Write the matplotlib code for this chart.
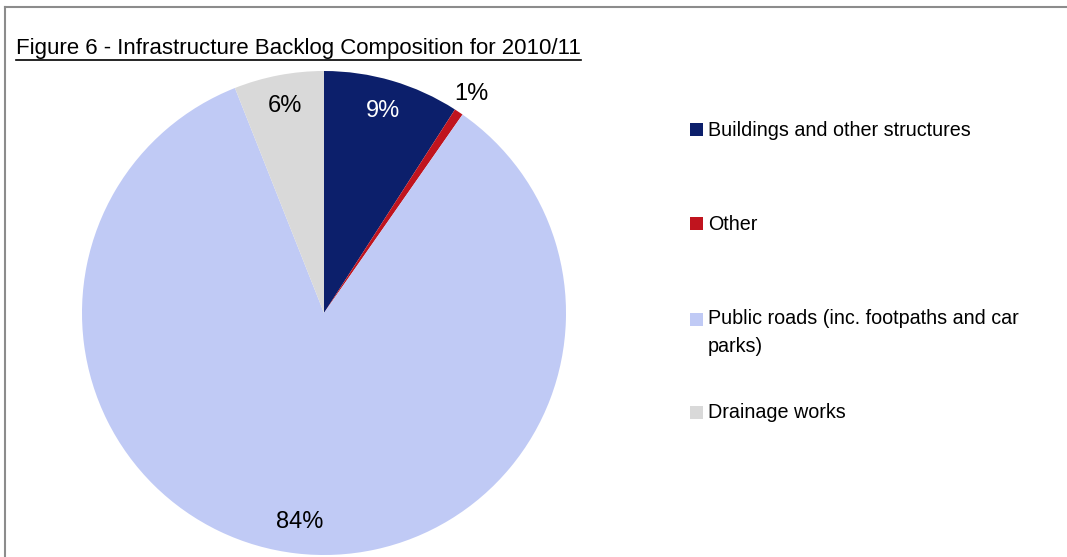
import matplotlib
matplotlib.use("Agg")
import matplotlib.pyplot as plt
from matplotlib.patches import Rectangle
from matplotlib.lines import Line2D
import numpy as np

# Backlog composition (share of total, %)
categories = ["Buildings and other structures", "Other",
              "Public roads (inc. footpaths and car\nparks)", "Drainage works"]
shares = [9.1, 0.6, 84.3, 6.0]
colors = ["#0C1F6B", "#C0141E", "#C0CAF5", "#D9D9D9"]
label_colors = ["white", "black", "black", "black"]
title = "Figure 6 - Infrastructure Backlog Composition for 2010/11"

FONT = "Liberation Sans"
W, H, DPI = 1067, 557, 100
fig = plt.figure(figsize=(W / DPI, H / DPI), dpi=DPI)
fig.patch.set_facecolor("white")

# chart frame (top and left edges visible)
fig.add_artist(Line2D([4.5 / W, 4.5 / W], [0, 1 - 7 / H], color="#8C8C8C", lw=1.5))
fig.add_artist(Line2D([4.5 / W, 1], [1 - 7 / H, 1 - 7 / H], color="#8C8C8C", lw=1.5))

# pie axes: centre (324, 313) px, radius 242 px
cx, cy, r = 324, 313, 242
ax = fig.add_axes([(cx - r) / W, (H - cy - r) / H, 2 * r / W, 2 * r / H])

wedges, texts, autotexts = ax.pie(
    shares, colors=colors, startangle=90, counterclock=False, radius=1,
    autopct="%.0f%%", pctdistance=0.87,
    wedgeprops=dict(linewidth=0),
    textprops=dict(fontsize=17, family=FONT))
ax.set_xlim(-1, 1)
ax.set_ylim(-1, 1)
ax.set_aspect("equal")
ax.axis("off")
for t, c in zip(autotexts, label_colors):
    t.set_color(c)

# the thin "Other" slice gets its label outside the pie
w = wedges[1]
mid = np.deg2rad((w.theta1 + w.theta2) / 2)
autotexts[1].set_position((1.09 * np.cos(mid), 1.09 * np.sin(mid)))
autotexts[1].set_clip_on(False)

# title with underline
tt = fig.text(16 / W, 1 - 54 / H, title, fontsize=16, family=FONT,
              ha="left", va="baseline", color="black")
fig.canvas.draw()
bb = tt.get_window_extent()
uy = (bb.y0 - 1) / H
fig.add_artist(Line2D([bb.x0 / W, bb.x1 / W], [uy, uy], color="black", lw=1.2))

# legend
leg_y = [130, 224, 320, 413]
for name, col, y in zip(categories, colors, leg_y):
    fig.add_artist(Rectangle((690 / W, 1 - (y + 6) / H), 13 / W, 13 / H,
                             color=col, transform=fig.transFigure, lw=0))
    if "\n" in name:
        fig.text(708 / W, 1 - (y - 11) / H, name, fontsize=14.2, family=FONT,
                 ha="left", va="top", linespacing=1.6, color="black")
    else:
        fig.text(708 / W, 1 - y / H, name, fontsize=14.2, family=FONT,
                 ha="left", va="center", color="black")

fig.savefig("out.png", dpi=DPI)
